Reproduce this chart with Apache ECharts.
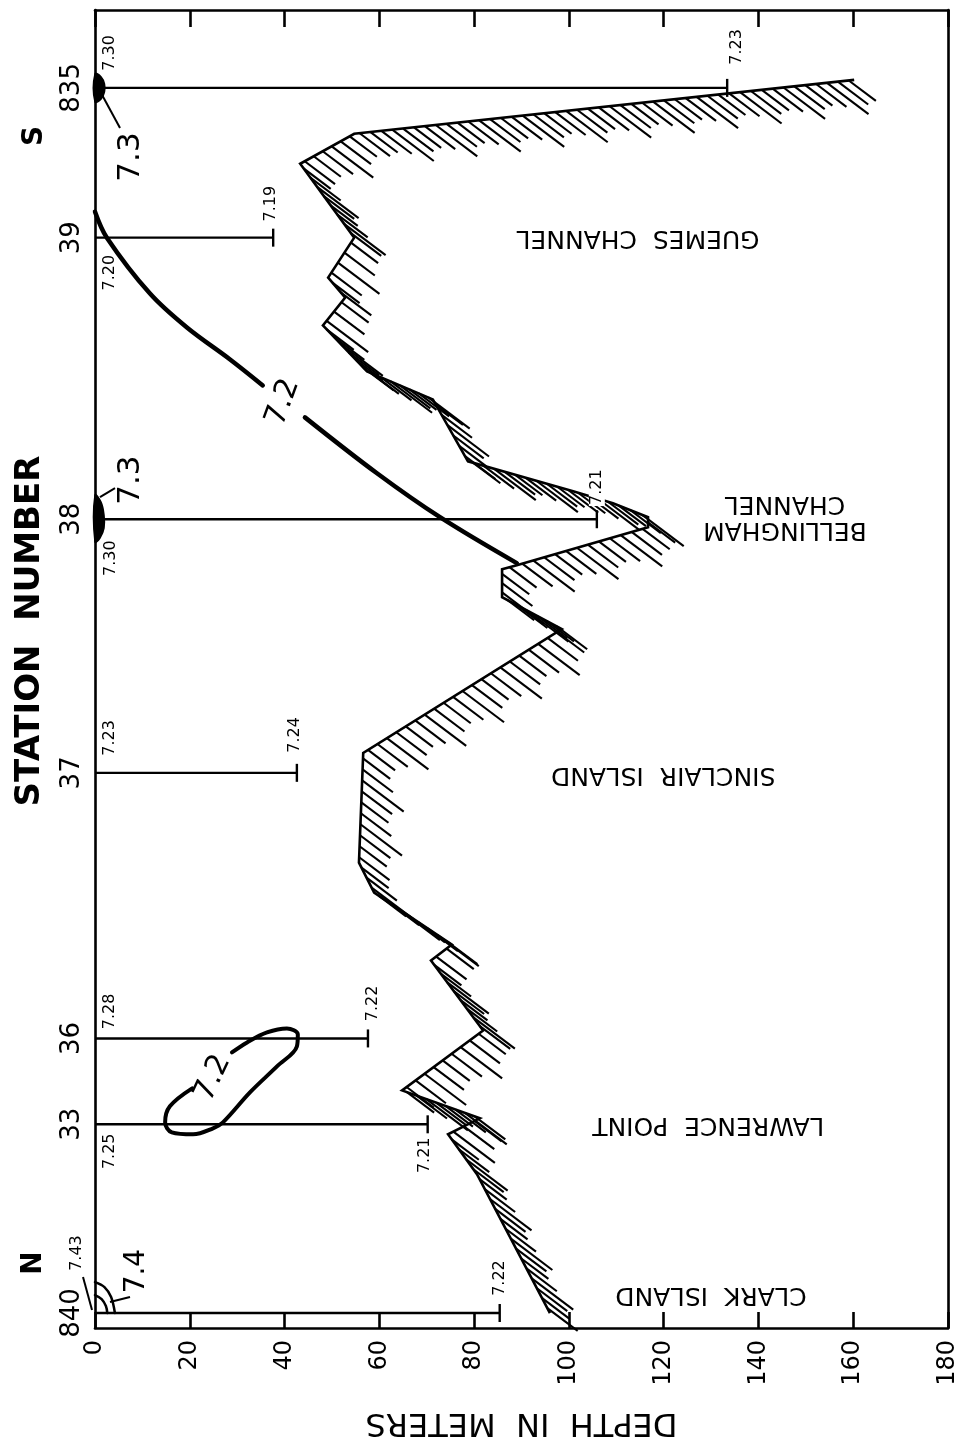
<!DOCTYPE html>
<html><head><meta charset="utf-8">
<script src="https://cdn.jsdelivr.net/npm/echarts@6/dist/echarts.min.js"></script>
<style>html,body{margin:0;padding:0;background:#fff}#c{width:957px;height:1441px}</style>
</head><body><div id="c"></div>
<script>
// ---------- DATA ----------
// stations along the section (distance along section, km) and their names
const stationNames = ['840','33','36','37','38','39','835'];
const stationDist  = [0.75, 10.2, 14.5, 27.8, 40.5, 54.6, 62.1];
// depth of deepest sample at each station (m)
const bottomSampleDepth = [85.4, 70.2, 57.6, 42.6, 105.9, 37.6, 133.4];
// pH at surface and at the deepest sample
const surfacePH = ['7.43','7.25','7.28','7.23','7.30','7.20','7.30'];
const bottomPH  = ['7.22','7.21','7.22','7.24','7.21','7.19','7.23'];

// sea-floor profile (depth m, distance km)
const profileDepth = [160.2, 54.7, 43.3, 54.7, 49.2, 52.8, 48.1, 57.4, 71.3, 78.7, 100.9, 109.3, 116.7, 116.7, 89.0, 85.9, 85.9, 98.5, 56.6, 55.7, 58.9, 75.3, 70.9, 81.9, 64.8, 81.2, 74.5, 80.6, 96.0];
const profileDist  = [62.5, 59.8, 58.3, 54.6, 52.6, 51.6, 50.2, 47.9, 46.5, 43.4, 41.9, 41.3, 40.6, 40.1, 38.2, 38.0, 36.6, 35.0, 28.8, 23.3, 21.8, 19.2, 18.4, 14.9, 11.9, 10.5, 9.7, 7.7, 0.75];

// pH 7.2 isoline (long, split where its label sits)
const c72aDepth = [0, 2.5, 11.6, 19.4, 28.5, 35.4];
const c72aDist  = [55.9, 54.6, 51.8, 50.1, 48.5, 47.2];
const c72bDepth = [44.3, 59.5, 72.8, 89.0];
const c72bDist  = [45.6, 42.8, 40.6, 38.3];
// pH 7.2 closed loop between stations 33 and 36
const loopDepth = [20.5, 15.8, 14.8, 16.2, 20.7, 24.9, 27.0, 32.7, 38.4, 42.6, 42.8, 40.5, 36.3, 32.1, 28.9];
const loopDist  = [12.0, 11.1, 10.3, 9.8, 9.7, 10.0, 10.3, 11.8, 13.1, 14.1, 14.7, 15.0, 14.8, 14.3, 13.8];
// pH 7.3 patches at surface
const blob835Depth = [0, 1.3, 2.0, 2.0, 1.3, 0];
const blob835Dist  = [62.8, 62.65, 62.3, 61.9, 61.55, 61.4];
const blob38Depth  = [0, 1.27, 1.9, 1.9, 1.05, 0];
const blob38Dist   = [41.71, 41.36, 40.71, 40.06, 39.56, 39.36];
// pH 7.4 arcs at station 840
const c74oDepth = [0, 2.0, 3.4, 4.2];
const c74oDist  = [2.3, 2.05, 1.55, 0.75];
const c74iDepth = [0, 1.4, 2.3, 2.6];
const c74iDist  = [1.65, 1.45, 1.1, 0.75];
// leader lines [depth1, dist1, depth2, dist2]
const leaderD1 = [1.27, 1.05, 3.17, -2.53];
const leaderS1 = [61.84, 41.61, 1.30, 2.55];
const leaderD2 = [5.28, 4.22, 7.39, -0.63];
const leaderS2 = [60.09, 42.06, 1.55, 0.90];

// free text annotations
const noteText  = ['N','S','GUEMES  CHANNEL','BELLINGHAM\nCHANNEL','SINCLAIR  ISLAND','LAWRENCE  POINT','CLARK  ISLAND','7.3','7.3','7.4','7.2','7.2'];
const noteDepth = [-12.9, -12.7, 114.6, 145.6, 119.9, 129.4, 130.0, 7.6, 7.6, 8.9, 39.7, 24.9];
const noteDist  = [3.25, 59.7, 54.6, 40.66, 27.7, 10.2, 1.7, 58.64, 42.46, 2.85, 46.36, 12.52];

// ---------- STYLE ----------
const FONT = 'DejaVu Sans';
const INK = '#000';
const noteStyle = [
  {fontSize:28, rotate:90, fontWeight:'bold'},
  {fontSize:28, rotate:90, fontWeight:'bold'},
  {fontSize:25, rotate:180},
  {fontSize:25, rotate:180, lineHeight:26},
  {fontSize:25, rotate:180},
  {fontSize:25, rotate:180},
  {fontSize:25, rotate:180},
  {fontSize:31, rotate:90},
  {fontSize:31, rotate:90},
  {fontSize:28, rotate:90},
  {fontSize:30, rotate:70},
  {fontSize:30, rotate:65}
];
// label offsets (px) for bottom / surface values at each station
const barLabelOffset = [
  {bdx:0,  bdy:-35, sdx:-18, sdy:-60},
  {bdx:-3, bdy:31,  sdx:15,  sdy:27},
  {bdx:5,  bdy:-35, sdx:15,  sdy:-27},
  {bdx:-2, bdy:-38, sdx:15,  sdy:-35},
  {bdx:0,  bdy:-32, sdx:16,  sdy:39},
  {bdx:-2, bdy:-34, sdx:15,  sdy:35},
  {bdx:10, bdy:-41, sdx:15,  sdy:-35}
];
const HATCH_GAP = 11, HATCH_ANGLE = 37 * Math.PI / 180;

const zip = (a, b) => a.map((v, i) => [v, b[i]]);
const axisLine = {show:true, onZero:false, lineStyle:{color:INK, width:2.6}};

function nearestStation(v){
  let best = 0;
  stationDist.forEach((s, i) => { if (Math.abs(s - v) < Math.abs(stationDist[best] - v)) best = i; });
  return stationNames[best];
}

function txt(t, x, y, size){
  return {type:'text', x:x, y:y, rotation:Math.PI/2, z2:10,
    style:{text:t, fill:INK, fontSize:size, fontFamily:FONT, align:'center', verticalAlign:'middle',
      backgroundColor:'#fff', padding:[0,1]}};
}

const chart = echarts.init(document.getElementById('c'), null, {renderer:'canvas'});

const segments = [];
for (let i = 0; i < profileDepth.length - 1; i++) {
  segments.push([profileDepth[i], profileDist[i], profileDepth[i+1], profileDist[i+1]]);
}
const blobs = [zip(blob835Depth, blob835Dist), zip(blob38Depth, blob38Dist)];

const contourLine = (data, w) => ({
  type:'line', data:data, smooth:0.35, symbol:'none', clip:false, z:5,
  lineStyle:{color:INK, width:w, cap:'round'}, silent:true
});

chart.setOption({
  animation:false,
  backgroundColor:'#fff',
  grid:{left:95, right:9, top:10, bottom:113, outerBoundsMode:'none', containLabel:false},
  xAxis:[{
    type:'value', min:0, max:180, interval:20, position:'bottom',
    axisLine:axisLine,
    axisTick:{show:true, inside:true, length:16, lineStyle:{color:INK, width:2.6}},
    axisLabel:{rotate:90, fontSize:24, color:INK, fontFamily:FONT, margin:12},
    splitLine:{show:false},
    name:'DEPTH  IN  METERS', nameLocation:'middle', nameRotate:180, nameGap:78,
    nameTextStyle:{fontSize:32, color:INK, fontFamily:FONT}
  },{
    type:'value', min:0, max:180, interval:20, position:'top',
    axisLine:axisLine,
    axisTick:{show:true, inside:true, length:17, lineStyle:{color:INK, width:2.6}},
    axisLabel:{show:false}, splitLine:{show:false}
  }],
  yAxis:[{
    type:'value', min:0, max:66, position:'left',
    axisLine:axisLine, axisTick:{show:false}, splitLine:{show:false},
    axisLabel:{customValues:stationDist, formatter:nearestStation, rotate:90,
      fontSize:26, color:INK, fontFamily:FONT, margin:10},
    name:'STATION  NUMBER', nameLocation:'middle', nameRotate:90, nameGap:48,
    nameTextStyle:{fontSize:34, fontWeight:'bold', color:INK, fontFamily:FONT, padding:[0,0,0,76]}
  },{
    type:'value', min:0, max:66, position:'right',
    axisLine:axisLine, axisTick:{show:false}, axisLabel:{show:false}, splitLine:{show:false}
  }],
  series:[
    // hatching below sea floor
    {
      type:'custom', data:segments, clip:false, z:2, silent:true,
      encode:{x:[0,2], y:[1,3]},
      renderItem:function(params, api){
        const a = api.coord([api.value(0), api.value(1)]);
        const b = api.coord([api.value(2), api.value(3)]);
        const dx = b[0]-a[0], dy = b[1]-a[1];
        const L = Math.hypot(dx, dy);
        const n = Math.max(1, Math.round(L / HATCH_GAP));
        const hc = Math.cos(HATCH_ANGLE), hs = Math.sin(HATCH_ANGLE);
        const ch = [];
        for (let k = 0; k < n; k++) {
          const t = (k + 0.5) / n;
          const sx = a[0] + dx*t, sy = a[1] + dy*t;
          const len = (k % 4 === 2) ? 52 : ((k % 2) ? 38 : 34);
          ch.push({type:'line', shape:{x1:sx, y1:sy, x2:sx+len*hc, y2:sy+len*hs},
            style:{stroke:INK, lineWidth:2.1}});
        }
        return {type:'group', children:ch};
      }
    },
    // sea floor
    {
      type:'line', data:zip(profileDepth, profileDist), symbol:'none', clip:false, z:3, silent:true,
      lineStyle:{color:INK, width:2.6, join:'miter'}
    },
    // station casts
    {
      type:'custom', data:zip(bottomSampleDepth, stationDist), clip:false, z:4, silent:true,
      encode:{x:0, y:1},
      renderItem:function(params, api){
        const i = params.dataIndex;
        const s = api.value(1), d = api.value(0);
        const p0 = api.coord([0, s]), p1 = api.coord([d, s]);
        const o = barLabelOffset[i];
        return {type:'group', children:[
          {type:'line', shape:{x1:p0[0], y1:p0[1], x2:p1[0], y2:p1[1]}, style:{stroke:INK, lineWidth:2.4}},
          {type:'line', shape:{x1:p1[0], y1:p1[1]-9, x2:p1[0], y2:p1[1]+9}, style:{stroke:INK, lineWidth:2.4}},
          txt(bottomPH[i], p1[0]+o.bdx, p1[1]+o.bdy, 16),
          txt(surfacePH[i], p0[0]+o.sdx, p0[1]+o.sdy, 16)
        ]};
      }
    },
    // isolines
    contourLine(zip(c72aDepth, c72aDist), 4.5),
    contourLine(zip(c72bDepth, c72bDist), 4.5),
    contourLine(zip(loopDepth, loopDist), 4),
    contourLine(zip(c74oDepth, c74oDist), 2.5),
    contourLine(zip(c74iDepth, c74iDist), 2.5),
    // 7.3 patches
    {
      type:'custom', data:[[0,0],[1,1]], clip:false, z:5, silent:true,
      renderItem:function(params, api){
        const pts = blobs[params.dataIndex].map(p => api.coord(p));
        return {type:'polygon', shape:{points:pts, smooth:0.4}, style:{fill:INK, stroke:INK, lineWidth:1.5}};
      }
    },
    // leader lines
    {
      type:'custom', data:leaderD1.map((d, i) => [d, leaderS1[i], leaderD2[i], leaderS2[i]]),
      clip:false, z:5, silent:true, encode:{x:[0,2], y:[1,3]},
      renderItem:function(params, api){
        const a = api.coord([api.value(0), api.value(1)]);
        const b = api.coord([api.value(2), api.value(3)]);
        return {type:'line', shape:{x1:a[0], y1:a[1], x2:b[0], y2:b[1]}, style:{stroke:INK, lineWidth:2}};
      }
    },
    // text annotations
    {
      type:'scatter', symbolSize:0, clip:false, z:6, silent:true,
      itemStyle:{opacity:1},
      data:noteText.map((t, i) => ({
        name:t, value:[noteDepth[i], noteDist[i]],
        label:Object.assign({show:true, position:'inside', formatter:'{b}', color:INK, fontFamily:FONT,
          align:'center', verticalAlign:'middle', opacity:1}, noteStyle[i])
      }))
    }
  ]
});
</script></body></html>
